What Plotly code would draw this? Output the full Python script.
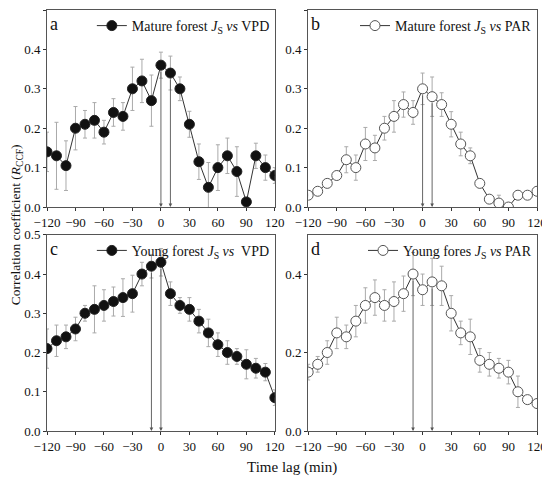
import plotly.graph_objects as go

# time lag (min)
lags = [-120, -110, -100, -90, -80, -70, -60, -50, -40, -30, -20, -10, 0,
        10, 20, 30, 40, 50, 60, 70, 80, 90, 100, 110, 120]

# a: mature forest Js vs VPD
mat_vpd = [0.14, 0.13, 0.105, 0.20, 0.21, 0.22, 0.19, 0.24, 0.23, 0.30, 0.32, 0.27, 0.36,
           0.34, 0.30, 0.21, 0.115, 0.05, 0.10, 0.13, 0.09, 0.013, 0.13, 0.10, 0.08]
mat_vpd_err = [0.05, 0.085, 0.063, 0.055, 0.035, 0.045, 0.03, 0.035, 0.035, 0.055, 0.055, 0.065, 0.033,
               0.043, 0.03, 0.033, 0.045, 0.063, 0.058, 0.045, 0.063, 0.01, 0.032, 0.032, 0.02]

# b: mature forest Js vs PAR
mat_par = [0.03, 0.04, 0.06, 0.08, 0.12, 0.10, 0.16, 0.15, 0.20, 0.23, 0.26, 0.24, 0.30,
           0.28, 0.26, 0.21, 0.16, 0.13, 0.06, 0.02, 0.01, 0.0, 0.03, 0.03, 0.04]
mat_par_err = [0.005, 0.005, 0.005, 0.005, 0.033, 0.032, 0.042, 0.032, 0.03, 0.04, 0.032, 0.03, 0.04,
               0.05, 0.03, 0.032, 0.03, 0.02, 0.01, 0.01, 0.02, 0.005, 0.005, 0.005, 0.005]

# c: young forest Js vs VPD
yng_vpd = [0.21, 0.23, 0.24, 0.26, 0.30, 0.31, 0.32, 0.33, 0.34, 0.35, 0.40, 0.42, 0.43,
           0.35, 0.32, 0.31, 0.28, 0.25, 0.22, 0.20, 0.19, 0.17, 0.16, 0.15, 0.085]
yng_vpd_err = [0.05, 0.04, 0.03, 0.03, 0.02, 0.06, 0.04, 0.037, 0.048, 0.047, 0.03, 0.03, 0.035,
               0.03, 0.02, 0.03, 0.03, 0.035, 0.03, 0.03, 0.02, 0.037, 0.025, 0.022, 0.02]

# d: young forest Js vs PAR
yng_par = [0.15, 0.17, 0.20, 0.25, 0.24, 0.28, 0.32, 0.34, 0.32, 0.33, 0.35, 0.40, 0.36,
           0.38, 0.37, 0.30, 0.25, 0.24, 0.18, 0.17, 0.16, 0.15, 0.10, 0.08, 0.07]
yng_par_err = [0.02, 0.02, 0.03, 0.04, 0.03, 0.04, 0.045, 0.045, 0.04, 0.05, 0.045, 0.055, 0.04,
               0.06, 0.05, 0.045, 0.03, 0.045, 0.03, 0.03, 0.025, 0.03, 0.04, 0.01, 0.01]

# lags marked with arrows in each panel
arrows_a = [0, 10]
arrows_b = [0, 10]
arrows_c = [-10, 0]
arrows_d = [-10, 10]

xticks = [-120, -90, -60, -30, 0, 30, 60, 90, 120]

FONT = "Liberation Serif"

panels = [
    ("a", mat_vpd, mat_vpd_err, True, "Mature forest <i>J</i><sub>S</sub> <i>vs</i> VPD", arrows_a),
    ("b", mat_par, mat_par_err, False, "Mature forest <i>J</i><sub>S</sub> <i>vs</i> PAR", arrows_b),
    ("c", yng_vpd, yng_vpd_err, True, "Young forest <i>J</i><sub>S</sub> <i>vs</i>  VPD", arrows_c),
    ("d", yng_par, yng_par_err, False, "Young fores <i>J</i><sub>S</sub> <i>vs</i> PAR", arrows_d),
]

xdom = [[0, 0.465], [0.533, 1]]
ydom = [[0.532, 1], [0, 0.466]]

fig = go.Figure()
annotations = []
layout = {}

for i, (lab, vals, errs, filled, name, arrows) in enumerate(panels):
    n = i + 1
    xa = "x" if n == 1 else "x%d" % n
    ya = "y" if n == 1 else "y%d" % n
    lg = "legend" if n == 1 else "legend%d" % n
    col, row = i % 2, i // 2

    fig.add_trace(go.Scatter(
        x=lags, y=vals, mode="lines+markers", name=name,
        xaxis=xa, yaxis=ya, legend=lg, showlegend=True,
        line=dict(color="#333333", width=1),
        marker=dict(size=10, symbol="circle",
                    color="#111111" if filled else "white",
                    line=dict(color="#222222" if filled else "#555555", width=1)),
        error_y=dict(type="data", array=errs, color="#aaaaaa", thickness=1, width=2),
    ))

    layout["xaxis" if n == 1 else "xaxis%d" % n] = dict(
        domain=xdom[col], anchor=ya, range=[-120, 120], tickvals=xticks,
        ticktext=[str(t).replace("-", "\u2212") for t in xticks],
        ticks="outside", ticklen=3, tickcolor="#333", showline=True, mirror=True,
        linecolor="#555555", linewidth=1, showgrid=False, zeroline=False,
        automargin=False,
        tickfont=dict(family=FONT, size=13, color="#111"),
    )
    ytv = [0.0, 0.1, 0.2, 0.3, 0.4, 0.5] if lab != "d" else [0.0, 0.2, 0.4]
    layout["yaxis" if n == 1 else "yaxis%d" % n] = dict(
        domain=ydom[row], anchor=xa, range=[0, 0.5], tickvals=ytv,
        ticktext=["%.1f" % v for v in ytv],
        ticks="outside", ticklen=3, tickcolor="#333", showline=True, mirror=True,
        linecolor="#555555", linewidth=1, showgrid=False, zeroline=False,
        automargin=False,
        tickfont=dict(family=FONT, size=13, color="#111"),
    )
    layout[lg] = dict(
        x=xdom[col][1], xanchor="right", y=ydom[row][1], yanchor="top",
        bgcolor="rgba(0,0,0,0)", font=dict(family=FONT, size=14, color="#111"),
        itemwidth=30, tracegroupgap=0,
    )

    annotations.append(dict(
        text=lab, x=0.005, y=0.99, xref="%s domain" % xa, yref="%s domain" % ya,
        xanchor="left", yanchor="top", showarrow=False,
        font=dict(family=FONT, size=18, color="#111"),
    ))
    for lag in arrows:
        v = vals[lags.index(lag)]
        annotations.append(dict(
            x=lag, y=0, ax=lag, ay=v, xref=xa, yref=ya, axref=xa, ayref=ya,
            text="", showarrow=True, arrowhead=2, arrowsize=0.8, arrowwidth=0.9,
            arrowcolor="#555555", startstandoff=5,
        ))

annotations.append(dict(
    text="Correlation coefficient (<i>R</i><sub>CCF</sub>)", x=-0.062, y=0.49,
    xref="paper", yref="paper", xanchor="center", yanchor="middle",
    textangle=-90, showarrow=False,
    font=dict(family=FONT, size=13.5, color="#111"),
))
annotations.append(dict(
    text="Time lag (min)", x=0.5, y=-0.086, xref="paper", yref="paper",
    xanchor="center", yanchor="middle",
    showarrow=False, font=dict(family=FONT, size=15, color="#111"),
))

# page body adds an 8px offset, margins shifted to compensate
fig.update_layout(
    width=550, height=486,
    margin=dict(l=39, r=21, t=2, b=63, autoexpand=False),
    paper_bgcolor="white", plot_bgcolor="white",
    showlegend=True,
    annotations=annotations,
    **layout,
)

fig.write_html("out.html")
